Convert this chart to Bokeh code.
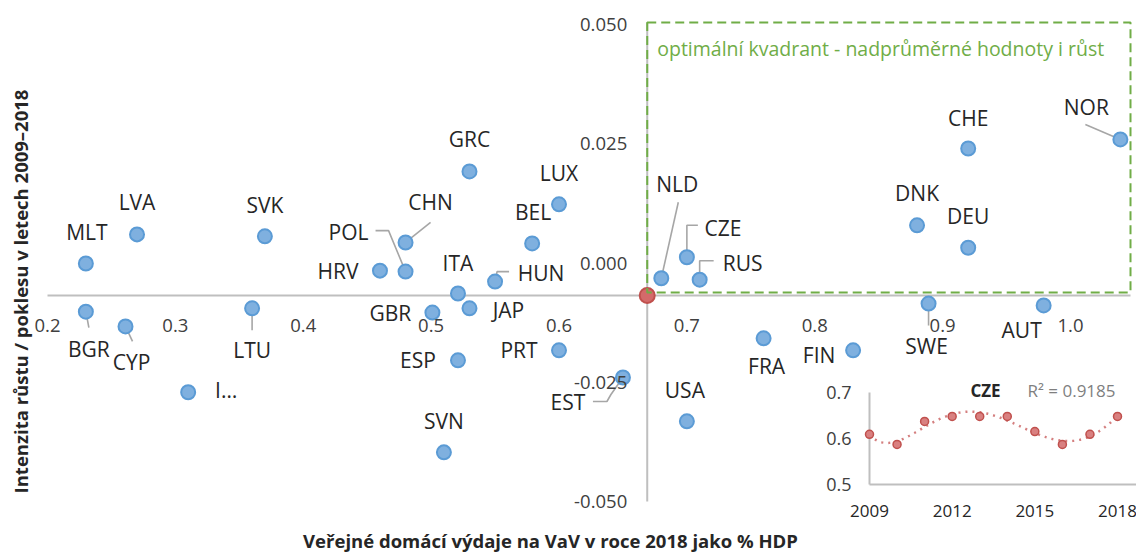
import numpy as np
from bokeh.plotting import figure
from bokeh.models import ColumnDataSource, LabelSet, Label, BoxAnnotation, Range1d
from bokeh.core.properties import value
from bokeh.embed import file_html
from bokeh.resources import INLINE

# ---------------- data ----------------
countries = ["MLT", "LVA", "SVK", "HRV", "POL", "CHN", "GRC", "LUX", "BEL", "ITA", "HUN",
             "GBR", "JAP", "ESP", "PRT", "EST", "SVN", "USA", "FRA", "FIN", "SWE", "AUT",
             "BGR", "CYP", "LTU", "I…", "NLD", "CZE", "RUS", "DNK", "CHE", "DEU", "NOR"]
spend_2018 = [0.230, 0.270, 0.370, 0.460, 0.480, 0.480, 0.530, 0.600, 0.579, 0.521, 0.550,
              0.501, 0.530, 0.521, 0.600, 0.650, 0.510, 0.700, 0.760, 0.830, 0.889, 0.979,
              0.230, 0.261, 0.360, 0.310, 0.680, 0.700, 0.710, 0.880, 0.920, 0.920, 1.039]
growth = [-0.0001, 0.0060, 0.0056, -0.0016, -0.0018, 0.0043, 0.0192, 0.0123, 0.0041, -0.0064, -0.0039,
          -0.0104, -0.0095, -0.0204, -0.0183, -0.0240, -0.0397, -0.0332, -0.0158, -0.0183, -0.0085, -0.0089,
          -0.0102, -0.0133, -0.0095, -0.0271, -0.0032, 0.0012, -0.0035, 0.0079, 0.0240, 0.0032, 0.0259]
mean_spend = 0.669
mean_growth = -0.0068

x_ticks = [0.2, 0.3, 0.4, 0.5, 0.6, 0.7, 0.8, 0.9, 1.0]
x_tick_labels = ["0.2", "0.3", "0.4", "0.5", "0.6", "0.7", "0.8", "0.9", "1.0"]
y_ticks = [0.05, 0.025, 0.0, -0.025, -0.05]
y_tick_labels = ["0.050", "0.025", "0.000", "-0.025", "-0.050"]

x_title = "Veřejné domácí výdaje na VaV v roce 2018 jako % HDP"
y_title = "Intenzita růstu / poklesu v letech 2009–2018"
quadrant_text = "optimální kvadrant - nadprůměrné hodnoty i růst"

cze_years = [2009, 2010, 2011, 2012, 2013, 2014, 2015, 2016, 2017, 2018]
cze_values = [0.609, 0.587, 0.637, 0.648, 0.648, 0.648, 0.615, 0.587, 0.609, 0.648]
inset_y_ticks = [0.5, 0.6, 0.7]
inset_y_labels = ["0.5", "0.6", "0.7"]
inset_x_ticks = [2009, 2012, 2015, 2018]
inset_title = "CZE"
inset_r2 = "R² = 0.9185"

# ---------------- layout (pixels; the frame is the whole canvas) ----------------
W, H = 1136, 552
PX_X02, PX_PER_X = 47.0, 1278.75      # pixel of x=0.2, pixels per unit
PX_Y0, PX_PER_Y = 262.5, 4770.0       # pixel of y=0, pixels per unit
XL = 0.2 - PX_X02 / PX_PER_X
XR = XL + W / PX_PER_X
YT = PX_Y0 / PX_PER_Y
YB = YT - H / PX_PER_Y
ppx, ppy = PX_PER_X, PX_PER_Y
X_AXIS_END = 0.2 + (1130 - PX_X02) / ppx


def sx(px):
    return XL + px / ppx


def sy(py):
    return YT - py / ppy


# label offsets (px, +dy is down) and leader polylines
label_off = {
    "MLT": (1, -31), "LVA": (0, -32), "SVK": (0, -31), "HRV": (-42, 0), "POL": (-57, -40),
    "CHN": (25, -40), "GRC": (0, -32), "LUX": (0, -31), "BEL": (1, -31), "ITA": (0, -31),
    "HUN": (46, -9), "GBR": (-42, 0), "JAP": (39, 2), "ESP": (-40, 0), "PRT": (-40, 0),
    "EST": (-55, 25), "SVN": (0, -31), "USA": (-2, -31), "FRA": (3, 28), "FIN": (-34, 5),
    "SWE": (-2, 42), "AUT": (-22, 25), "BGR": (3, 37), "CYP": (6, 36), "LTU": (0, 42),
    "I…": (38, -2), "NLD": (16, -94), "CZE": (36, -29), "RUS": (43, -17), "DNK": (0, -32),
    "CHE": (0, -31), "DEU": (0, -32), "NOR": (-34, -32),
}
leaders = {
    "POL": [(0, 0), (-17, -41), (-30, -41)],
    "CHN": [(0, 0), (25, -20)],
    "HUN": [(0, 0), (2, -10), (14, -10)],
    "NLD": [(0, 0), (17, -76)],
    "CZE": [(0, 0), (0, -32), (11, -32)],
    "RUS": [(0, 0), (0, -19), (14, -19)],
    "EST": [(0, 0), (-12, 17), (-16, 24), (-30, 24)],
    "SWE": [(0, 0), (0, 22)],
    "BGR": [(0, 0), (3, 16)],
    "CYP": [(0, 0), (7, 15)],
    "LTU": [(0, 0), (0, 22)],
    "NOR": [(0, 0), (-35, -15)],
}

FONT = "Open Sans"
TXT = "#262626"
TICK = "#404040"

p = figure(width=W, height=H, x_range=Range1d(XL, XR), y_range=Range1d(YB, YT),
           x_axis_location=None, y_axis_location=None, toolbar_location=None,
           output_backend="svg", min_border=0, min_border_left=0, min_border_right=0,
           min_border_top=0, min_border_bottom=0)
p.xgrid.visible = False
p.ygrid.visible = False
p.outline_line_color = None
p.background_fill_color = "white"
p.border_fill_color = "white"

# axis lines crossing at the mean
p.segment(x0=[0.2, mean_spend], y0=[mean_growth, -0.05], x1=[X_AXIS_END, mean_spend],
          y1=[mean_growth, 0.05 + 2 / ppy], line_color="#BFBFBF", line_width=2)

# optimal quadrant box
p.add_layout(BoxAnnotation(left=mean_spend, right=X_AXIS_END, bottom=mean_growth + 3 / ppy,
                           top=0.05 + 2 / ppy, fill_alpha=0, line_color="#70AD47", line_alpha=1.0,
                           line_width=2, line_dash="9 5"))
p.add_layout(Label(x=mean_spend + 10 / ppx, y=0.05 - 24 / ppy, text=quadrant_text,
                   text_font=FONT, text_font_size="19.5px", text_color="#70AD47",
                   text_align="left", text_baseline="middle"))

# tick labels
xt = ColumnDataSource(dict(x=x_ticks, y=[mean_growth - 30 / ppy] * len(x_ticks), t=x_tick_labels))
p.add_layout(LabelSet(x="x", y="y", text="t", source=xt, text_font=value(FONT),
                      text_font_size="18.5px", text_color=TICK, text_align="center",
                      text_baseline="middle"))
yt = ColumnDataSource(dict(x=[mean_spend - 20 / ppx] * len(y_ticks), y=y_ticks, t=y_tick_labels))
p.add_layout(LabelSet(x="x", y="y", text="t", source=yt, text_font=value(FONT),
                      text_font_size="18.5px", text_color=TICK, text_align="right",
                      text_baseline="middle"))

# leader lines
lx, ly = [], []
for c, pts in leaders.items():
    i = countries.index(c)
    lx.append([spend_2018[i] + dx / ppx for dx, dy in pts])
    ly.append([growth[i] - dy / ppy for dx, dy in pts])
p.multi_line(xs=lx, ys=ly, line_color="#A6A6A6", line_width=1.6)

# points
src = ColumnDataSource(dict(x=spend_2018, y=growth, c=countries))
p.scatter("x", "y", source=src, size=14, fill_color="#7FB0DF", line_color="#5B9BD5", line_width=2)
p.scatter(x=[mean_spend], y=[mean_growth], size=15, fill_color="#D46A6A", line_color="#C0504D", line_width=2)

# point labels
lab = ColumnDataSource(dict(
    x=[spend_2018[i] + label_off[c][0] / ppx for i, c in enumerate(countries)],
    y=[growth[i] - label_off[c][1] / ppy for i, c in enumerate(countries)],
    t=countries))
p.add_layout(LabelSet(x="x", y="y", text="t", source=lab, text_font=value(FONT),
                      text_font_size="21px", text_color=TXT, text_align="center",
                      text_baseline="middle"))

# ---------------- inset (CZE) via extra ranges ----------------
I_X09, I_PPX = 869.0, (1117.0 - 869.0) / 9.0     # pixel of 2009, pixels per year
I_Y05, I_PPY = 484.0, (484.0 - 392.0) / 0.2      # pixel of 0.5, pixels per unit
p.extra_x_ranges = {"ix": Range1d(2009 - I_X09 / I_PPX, 2009 + (W - I_X09) / I_PPX)}
p.extra_y_ranges = {"iy": Range1d(0.5 - (H - I_Y05) / I_PPY, 0.5 + I_Y05 / I_PPY)}
I_XEND = 2009 + (W - I_X09) / I_PPX

p.segment(x0=[2009, 2009], y0=[0.5, 0.5], x1=[2009, I_XEND], y1=[0.7, 0.5], line_color="#BFBFBF",
          line_width=2, x_range_name="ix", y_range_name="iy")

yrs = np.array(cze_years, dtype=float)
vals = np.array(cze_values)
best = None
for deg in range(2, 7):
    cf = np.polyfit(yrs - 2009, vals, deg)
    fit = np.polyval(cf, yrs - 2009)
    r2 = 1 - np.sum((vals - fit) ** 2) / np.sum((vals - vals.mean()) ** 2)
    if best is None or abs(r2 - 0.9185) < best[0]:
        best = (abs(r2 - 0.9185), cf)
gx = np.linspace(2009, 2018, 200)
p.line(gx, np.polyval(best[1], gx - 2009), line_color="#D47F7F", line_width=2.5, line_dash="2 5",
       x_range_name="ix", y_range_name="iy")
p.scatter(cze_years, cze_values, size=8, fill_color="#D98080", line_color="#C0504D", line_width=1.5,
          x_range_name="ix", y_range_name="iy")

iyt = ColumnDataSource(dict(x=[2009 - 18 / I_PPX] * 3, y=inset_y_ticks, t=inset_y_labels))
p.add_layout(LabelSet(x="x", y="y", text="t", source=iyt, x_range_name="ix", y_range_name="iy",
                      text_font=value(FONT), text_font_size="18px", text_color=TICK,
                      text_align="right", text_baseline="middle"))
ixt = ColumnDataSource(dict(x=inset_x_ticks, y=[0.5 - 26 / I_PPY] * 4, t=[str(v) for v in inset_x_ticks]))
p.add_layout(LabelSet(x="x", y="y", text="t", source=ixt, x_range_name="ix", y_range_name="iy",
                      text_font=value(FONT), text_font_size="17px", text_color=TXT,
                      text_align="center", text_baseline="middle"))
p.add_layout(Label(x=2009 + 116 / I_PPX, y=0.7 + 2 / I_PPY, text=inset_title, x_range_name="ix",
                   y_range_name="iy", text_font=FONT, text_font_size="17px",
                   text_font_style="bold", text_color=TXT, text_align="center", text_baseline="middle"))
p.add_layout(Label(x=2009 + 202 / I_PPX, y=0.7 + 2 / I_PPY, text=inset_r2, x_range_name="ix",
                   y_range_name="iy", text_font=FONT, text_font_size="17px",
                   text_color="#7F7F7F", text_align="center", text_baseline="middle"))

# axis titles
p.add_layout(Label(x=sx(550), y=sy(540), text=x_title, text_font=FONT, text_font_size="18.5px",
                   text_font_style="bold", text_color=TXT, text_align="center", text_baseline="middle"))
p.add_layout(Label(x=sx(20), y=sy(291), text=y_title, angle=np.pi / 2, text_font=FONT,
                   text_font_size="18.5px", text_font_style="bold", text_color=TXT,
                   text_align="center", text_baseline="middle"))

open("out.html", "w").write(file_html(p, INLINE))
